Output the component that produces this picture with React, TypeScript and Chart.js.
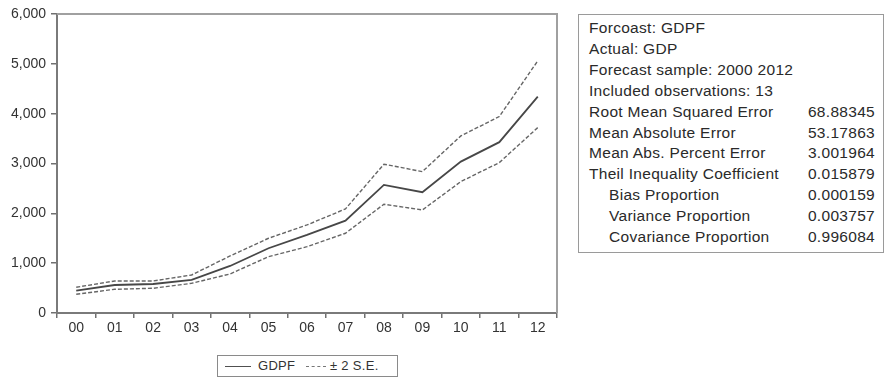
import React, { useEffect, useRef } from "react";
import { Chart, registerables } from "chart.js";

Chart.register(...registerables);

const years = ["00", "01", "02", "03", "04", "05", "06", "07", "08", "09", "10", "11", "12"];
const gdpf = [448, 562, 582, 663, 944, 1299, 1566, 1853, 2570, 2424, 3038, 3428, 4343];
const upperSE = [516, 643, 643, 763, 1145, 1500, 1767, 2088, 2986, 2837, 3554, 3942, 5060];
const lowerSE = [375, 476, 496, 596, 783, 1131, 1331, 1600, 2183, 2068, 2637, 3018, 3721];
const yTicks = [0, 1000, 2000, 3000, 4000, 5000, 6000];

const statsHeader = [
  "Forcoast: GDPF",
  "Actual: GDP",
  "Forecast sample: 2000 2012",
  "Included observations: 13",
];
const statNames = [
  "Root Mean Squared Error",
  "Mean Absolute Error",
  "Mean Abs. Percent Error",
  "Theil Inequality Coefficient",
  "Bias Proportion",
  "Variance Proportion",
  "Covariance Proportion",
];
const statValues = ["68.88345", "53.17863", "3.001964", "0.015879", "0.000159", "0.003757", "0.996084"];
const statIndent = [false, false, false, false, true, true, true];

const FONT = "'Liberation Sans', Arial, sans-serif";

const frame = {
  id: "frame",
  afterDatasetsDraw(chart: any) {
    const { ctx, chartArea } = chart;
    ctx.save();
    ctx.strokeStyle = "#a0a0a0";
    ctx.lineWidth = 2;
    ctx.beginPath();
    ctx.moveTo(chartArea.left, chartArea.top);
    ctx.lineTo(chartArea.right, chartArea.top);
    ctx.lineTo(chartArea.right, chartArea.bottom);
    ctx.stroke();
    ctx.restore();
  },
};

export default function App() {
  const ref = useRef<HTMLCanvasElement | null>(null);

  useEffect(() => {
    if (!ref.current) return;
    const chart = new Chart(ref.current, {
      type: "line",
      data: {
        labels: years,
        datasets: [
          {
            label: "GDPF",
            data: gdpf,
            borderColor: "#474747",
            borderWidth: 1.8,
            pointRadius: 0,
            tension: 0,
            fill: false,
          },
          {
            label: "+2 S.E.",
            data: upperSE,
            borderColor: "#666666",
            borderWidth: 1.4,
            borderDash: [4, 2],
            pointRadius: 0,
            tension: 0,
            fill: false,
          },
          {
            label: "-2 S.E.",
            data: lowerSE,
            borderColor: "#666666",
            borderWidth: 1.4,
            borderDash: [4, 2],
            pointRadius: 0,
            tension: 0,
            fill: false,
          },
        ],
      },
      options: {
        animation: false,
        responsive: false,
        maintainAspectRatio: false,
        layout: { padding: { top: 14, right: 3, left: 0, bottom: 0 } },
        plugins: {
          legend: { display: false },
          tooltip: { enabled: false },
        },
        scales: {
          x: {
            type: "category",
            offset: true,
            afterFit: (s: any) => {
              s.height = 32;
            },
            grid: {
              offset: true,
              drawOnChartArea: false,
              drawTicks: true,
              tickLength: 5,
              color: "#707070",
              lineWidth: 1.5,
            },
            border: { display: true, color: "#7a7a7a", width: 2 },
            ticks: {
              color: "#333333",
              font: { family: FONT, size: 14 },
              padding: 2,
              maxRotation: 0,
              autoSkip: false,
            },
          },
          y: {
            min: 0,
            max: 6000,
            afterFit: (s: any) => {
              s.width = 57;
            },
            afterBuildTicks: (s: any) => {
              s.ticks = yTicks.map((v) => ({ value: v }));
            },
            grid: {
              drawOnChartArea: false,
              drawTicks: true,
              tickLength: 6,
              color: "#707070",
              lineWidth: 1.5,
            },
            border: { display: true, color: "#7a7a7a", width: 2 },
            ticks: {
              color: "#333333",
              font: { family: FONT, size: 14 },
              padding: 5,
              callback: (v: any) => Number(v).toLocaleString("en-US"),
            },
          },
        },
      },
      plugins: [frame],
    });
    return () => chart.destroy();
  }, []);

  const lineH = 20.9;
  const rowStyle = {
    position: "absolute" as const,
    lineHeight: "20px",
    whiteSpace: "nowrap" as const,
  };

  return (
    <div
      style={{
        position: "fixed",
        left: 0,
        top: 0,
        width: 885,
        height: 378,
        background: "#ffffff",
        overflow: "hidden",
        fontFamily: FONT,
      }}
    >
      <canvas
        ref={ref}
        width={560}
        height={345}
        style={{ position: "absolute", left: 0, top: 0, width: 560, height: 345 }}
      />
      {/* legend */}
      <div
        style={{
          position: "absolute",
          left: 217,
          top: 355,
          width: 181,
          height: 22,
          border: "1.5px solid #8a8a8a",
          boxSizing: "border-box",
          fontSize: 13,
          letterSpacing: "0.3px",
          color: "#333",
        }}
      >
        <div style={{ position: "absolute", left: 7, top: 10, width: 26, borderTop: "1.6px solid #505050" }} />
        <div style={{ position: "absolute", left: 40, top: 2, lineHeight: "15px" }}>GDPF</div>
        <div style={{ position: "absolute", left: 88, top: 10, width: 20, borderTop: "1.3px dashed #777" }} />
        <div style={{ position: "absolute", left: 112, top: 2, lineHeight: "15px" }}>± 2 S.E.</div>
      </div>
      {/* stats box */}
      <div
        style={{
          position: "absolute",
          left: 578,
          top: 14,
          width: 306,
          height: 239,
          border: "1.5px solid #9a9a9a",
          boxSizing: "border-box",
          color: "#2a2a2a",
          fontSize: 15.5,
          letterSpacing: "0.3px",
        }}
      >
        {statsHeader.map((t, i) => (
          <div key={"h" + i} style={{ ...rowStyle, left: 10, top: 3 + i * lineH }}>
            {t}
          </div>
        ))}
        {statNames.map((t, i) => (
          <React.Fragment key={"s" + i}>
            <div style={{ ...rowStyle, left: statIndent[i] ? 30 : 10, top: 3 + (i + 4) * lineH }}>{t}</div>
            <div style={{ ...rowStyle, right: 8, top: 3 + (i + 4) * lineH }}>{statValues[i]}</div>
          </React.Fragment>
        ))}
      </div>
    </div>
  );
}
